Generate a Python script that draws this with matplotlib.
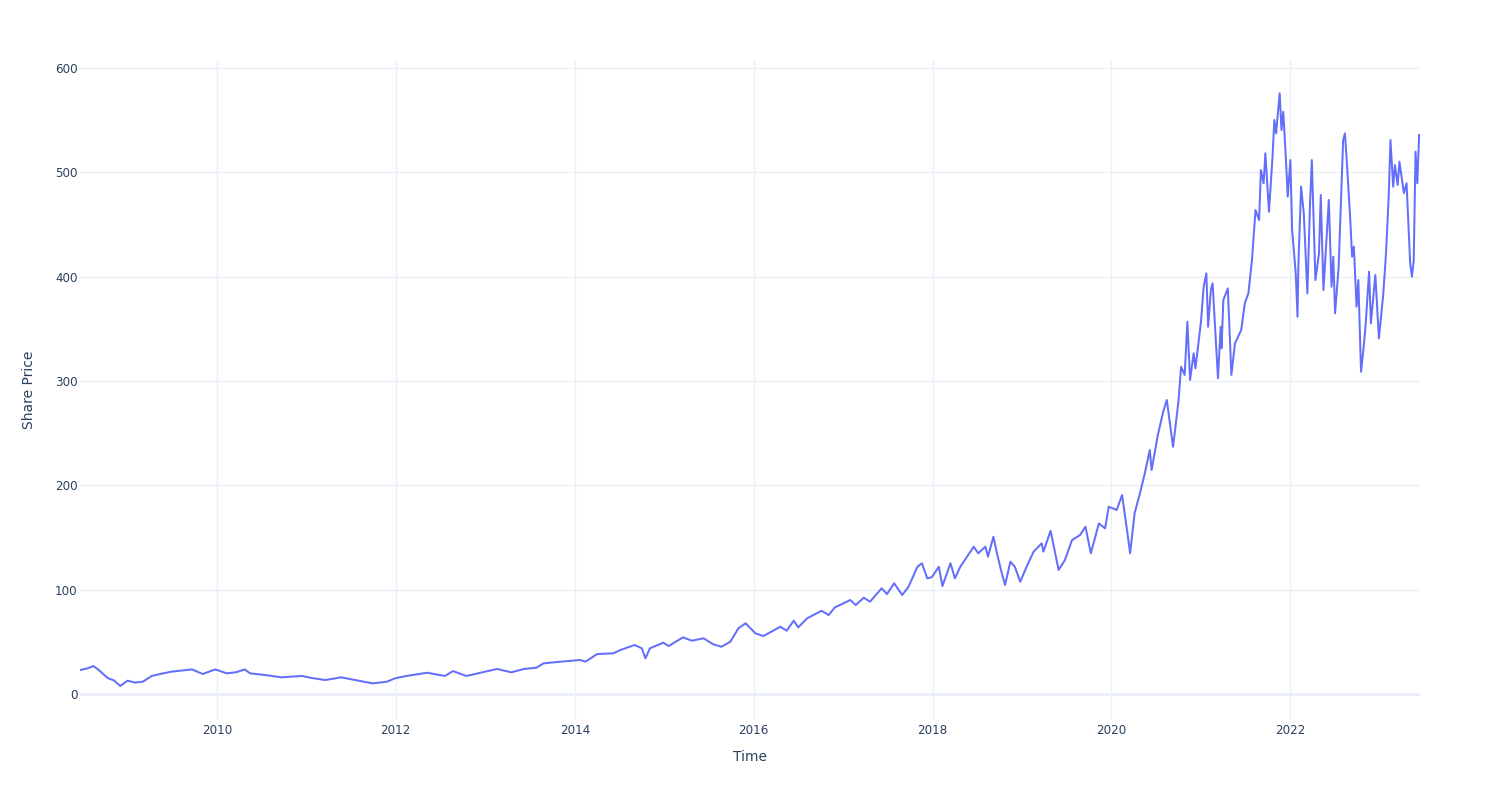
import matplotlib
matplotlib.use("Agg")
import matplotlib.pyplot as plt
import matplotlib.dates as mdates
import pandas as pd

# decimal-year time stamps and share prices
years = [
    2008.47, 2008.55, 2008.62, 2008.68, 2008.78, 2008.85, 2008.92, 2009.00, 2009.08, 2009.17,
    2009.27, 2009.38, 2009.49, 2009.60, 2009.72, 2009.84, 2009.98, 2010.11, 2010.22, 2010.31,
    2010.37, 2010.54, 2010.72, 2010.95, 2011.05, 2011.21, 2011.39, 2011.58, 2011.74, 2011.90,
    2011.99, 2012.12, 2012.35, 2012.55, 2012.64, 2012.79, 2013.13, 2013.29, 2013.43, 2013.57,
    2013.65, 2013.84, 2014.06, 2014.12, 2014.25, 2014.43, 2014.51, 2014.67, 2014.75, 2014.79,
    2014.84, 2014.99, 2015.05, 2015.21, 2015.31, 2015.44, 2015.55, 2015.64, 2015.74, 2015.83,
    2015.91, 2016.02, 2016.11, 2016.30, 2016.37, 2016.45, 2016.50, 2016.60, 2016.76, 2016.84,
    2016.91, 2017.08, 2017.14, 2017.23, 2017.30, 2017.43, 2017.49, 2017.57, 2017.66, 2017.73,
    2017.83, 2017.88, 2017.94, 2017.99, 2018.07, 2018.11, 2018.20, 2018.25, 2018.31, 2018.46,
    2018.51, 2018.59, 2018.62, 2018.68, 2018.72, 2018.76, 2018.81, 2018.87, 2018.92, 2018.98,
    2019.06, 2019.13, 2019.22, 2019.24, 2019.32, 2019.41, 2019.48, 2019.56, 2019.65, 2019.71,
    2019.77, 2019.86, 2019.93, 2019.97, 2020.06, 2020.12, 2020.17, 2020.21, 2020.26, 2020.32,
    2020.37, 2020.43, 2020.45, 2020.52, 2020.58, 2020.62, 2020.69, 2020.75, 2020.78, 2020.82,
    2020.85, 2020.88, 2020.92, 2020.94, 2021.00, 2021.03, 2021.06, 2021.08, 2021.11, 2021.13,
    2021.19, 2021.22, 2021.23, 2021.25, 2021.30, 2021.34, 2021.38, 2021.45, 2021.49, 2021.53,
    2021.57, 2021.61, 2021.65, 2021.67, 2021.70, 2021.72, 2021.76, 2021.80, 2021.82, 2021.84,
    2021.88, 2021.90, 2021.92, 2021.95, 2021.97, 2022.00, 2022.02, 2022.06, 2022.08, 2022.09,
    2022.12, 2022.15, 2022.19, 2022.22, 2022.24, 2022.28, 2022.32, 2022.34, 2022.37, 2022.43,
    2022.46, 2022.48, 2022.50, 2022.54, 2022.56, 2022.59, 2022.61, 2022.63, 2022.67, 2022.69,
    2022.71, 2022.74, 2022.76, 2022.79, 2022.82, 2022.84, 2022.88, 2022.90, 2022.95, 2022.99,
    2023.04, 2023.07, 2023.10, 2023.12, 2023.15, 2023.17, 2023.20, 2023.22, 2023.27, 2023.30,
    2023.32, 2023.34, 2023.36, 2023.38, 2023.40, 2023.42, 2023.44,
]
prices = [
    23.0, 24.5, 26.8, 23.0, 15.3, 13.0, 7.7, 12.8, 11.0, 11.8,
    17.3, 19.5, 21.4, 22.5, 23.6, 19.2, 23.6, 19.8, 21.0, 23.6,
    19.8, 18.2, 16.0, 17.3, 15.5, 13.4, 16.0, 12.8, 10.2, 11.8,
    15.0, 17.3, 20.4, 17.3, 22.0, 17.3, 24.0, 20.8, 24.0, 25.2,
    29.4, 31.0, 32.6, 31.0, 38.3, 39.0, 42.2, 47.0, 43.8, 34.2,
    43.8, 49.2, 46.0, 54.3, 51.1, 53.4, 47.6, 45.3, 50.1, 63.0,
    67.8, 58.2, 55.6, 64.5, 60.7, 70.3, 63.9, 72.6, 79.8, 75.7,
    83.1, 90.1, 85.3, 92.3, 88.5, 101.3, 95.8, 106.1, 94.9, 102.8,
    122.0, 125.3, 110.9, 111.9, 122.0, 103.5, 125.3, 110.9, 122.0, 141.2,
    134.9, 141.2, 131.6, 150.8, 134.9, 120.5, 104.5, 126.8, 122.0, 107.6,
    123.6, 136.4, 144.4, 136.4, 156.5, 118.9, 128.4, 147.6, 152.4, 160.4,
    134.9, 163.5, 158.8, 179.5, 176.4, 190.7, 160.4, 134.9, 173.2, 192.4,
    210.0, 233.9, 214.7, 248.3, 270.6, 281.8, 237.0, 280.2, 313.7, 305.8,
    356.8, 301.0, 326.6, 312.2, 356.8, 390.4, 403.2, 352.0, 387.2, 393.6,
    302.6, 352.0, 331.4, 377.6, 388.8, 305.8, 336.1, 348.9, 374.5, 384.0,
    416.0, 463.9, 454.3, 502.2, 489.5, 518.3, 462.3, 515.0, 550.2, 537.4,
    575.8, 540.6, 558.1, 511.8, 476.7, 511.8, 444.7, 403.2, 361.6, 412.8,
    486.3, 460.7, 384.0, 470.3, 511.8, 396.8, 422.4, 478.3, 387.2, 473.5,
    390.4, 419.2, 364.9, 409.6, 457.5, 531.0, 537.4, 511.8, 454.3, 419.2,
    428.8, 371.2, 396.8, 308.9, 332.9, 352.0, 404.8, 355.3, 401.6, 340.9,
    384.0, 422.4, 476.7, 531.0, 486.3, 507.0, 487.9, 510.2, 480.1, 489.5,
    451.2, 412.8, 400.0, 416.0, 519.8, 489.5, 535.8,
]
y_ticks = [0, 100, 200, 300, 400, 500, 600]
x_title = "Time"
y_title = "Share Price"


def to_date(y):
    yr = int(y)
    return pd.Timestamp(year=yr, month=1, day=1) + pd.Timedelta(days=(y - yr) * 365.25)


dates = [to_date(y) for y in years]

W, H = 1500, 800
fig = plt.figure(figsize=(W / 100, H / 100), dpi=100)
ax = fig.add_axes([80 / W, 80 / H, 1340 / W, 660 / H])

grid_c = "#EBF0F8"
text_c = "#2a3f5f"

ax.plot(dates, prices, color="#636EFA", linewidth=1.44, zorder=3)

ax.set_xlim(to_date(2008.47), to_date(2023.45))
ax.set_ylim(-24.9, 607.7)

ax.xaxis.set_major_locator(mdates.YearLocator(2))
ax.xaxis.set_major_formatter(mdates.DateFormatter("%Y"))
ax.set_yticks(y_ticks)

ax.grid(True, color=grid_c, linewidth=1, zorder=0)
ax.axhline(0, color=grid_c, linewidth=2, zorder=1)
for s in ax.spines.values():
    s.set_visible(False)

ax.tick_params(axis="both", length=0, colors=text_c, labelsize=8.6)
ax.tick_params(axis="x", pad=3)
ax.tick_params(axis="y", pad=1.8)

ax.set_xlabel(x_title, fontsize=10, color=text_c, labelpad=9.4)
ax.set_ylabel(y_title, fontsize=10, color=text_c, labelpad=13.7)

fig.savefig("out.png", dpi=100, facecolor="white")
